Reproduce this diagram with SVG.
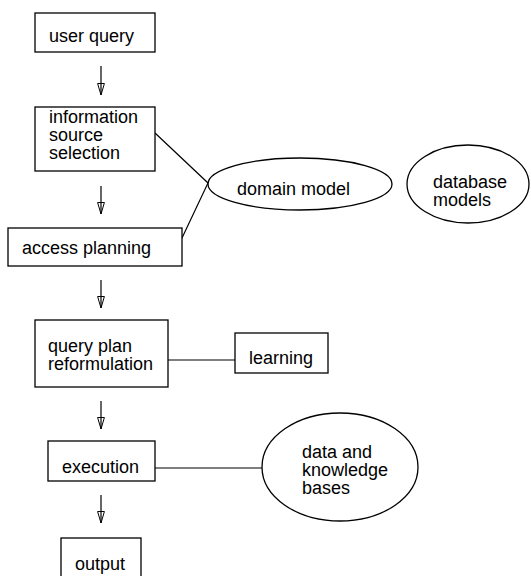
<svg xmlns="http://www.w3.org/2000/svg" width="531" height="576" viewBox="0 0 531 576">
<defs>
<marker id="ah" markerWidth="14" markerHeight="10" refX="12.5" refY="4" orient="auto" markerUnits="userSpaceOnUse" viewBox="0 0 14 8">
<path d="M1,0.6 L12.5,4 L1,7.4 Z" fill="none" stroke="#000" stroke-width="1"/>
</marker>
<style>
rect,ellipse{fill:#fff;stroke:#000;stroke-width:1.3}
text{font-family:"Liberation Sans",Arial,sans-serif;font-size:18px;fill:#000}
.c line,.c path{stroke:#000;stroke-width:1.2;fill:none}
</style>
</defs>
<rect width="531" height="576" fill="#fff" style="stroke:none"/>
<g class="c" id="connectors">
<line x1="101" y1="66" x2="101" y2="95" marker-end="url(#ah)"/>
<line x1="101" y1="186" x2="101" y2="214" marker-end="url(#ah)"/>
<line x1="101" y1="280" x2="101" y2="308" marker-end="url(#ah)"/>
<line x1="101" y1="401" x2="101" y2="429" marker-end="url(#ah)"/>
<line x1="101" y1="495" x2="101" y2="523" marker-end="url(#ah)"/>
<path d="M155,133 L208,183 L182,238"/>
<line x1="168" y1="360" x2="235" y2="360"/>
<line x1="155" y1="468" x2="262" y2="468"/>
</g>
<g id="user-query"><rect x="35" y="13" width="120" height="39"/><text x="49" y="42">user query</text></g>
<g id="info-source"><rect x="35" y="107" width="120" height="64"/><text x="49" y="123">information</text><text x="49" y="141">source</text><text x="49" y="159">selection</text></g>
<g id="access-planning"><rect x="8" y="228" width="174" height="38"/><text x="22" y="254">access planning</text></g>
<g id="domain-model"><ellipse cx="300" cy="184" rx="92" ry="26"/><text x="237" y="195">domain model</text></g>
<g id="database-models"><ellipse cx="468" cy="184" rx="61" ry="39"/><text x="433" y="188">database</text><text x="433" y="206">models</text></g>
<g id="query-plan"><rect x="35" y="320" width="133" height="67"/><text x="48" y="352">query plan</text><text x="48" y="370">reformulation</text></g>
<g id="learning"><rect x="235" y="333" width="93" height="40"/><text x="249" y="364">learning</text></g>
<g id="execution"><rect x="48" y="441" width="107" height="40"/><text x="62" y="473">execution</text></g>
<g id="data-kb"><ellipse cx="340" cy="467" rx="78" ry="54"/><text x="302" y="458">data and</text><text x="302" y="476">knowledge</text><text x="302" y="494">bases</text></g>
<g id="output"><rect x="61" y="538" width="80" height="44"/><text x="75" y="570">output</text></g>
</svg>
